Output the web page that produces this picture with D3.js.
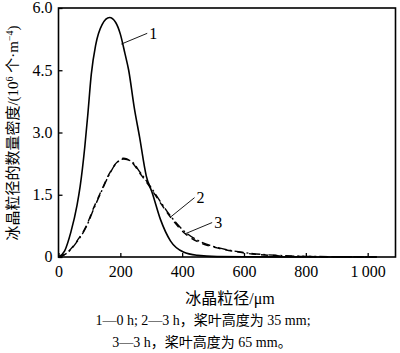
<!DOCTYPE html>
<html>
<head>
<meta charset="utf-8">
<script src="https://cdn.jsdelivr.net/npm/d3@7"></script>
<style>
  body { margin: 0; background: #fff; }
  text { font-family: "Liberation Serif", "Noto Sans CJK SC", serif; fill: #000; }
</style>
</head>
<body>
<div id="chart"></div>
<script>
// ice crystal size distribution, 3 curves
let width = 400, height = 353;

// data (size in um, density in 10^6 per m^4)
let sizes1 = [0, 20, 40, 60, 70, 85, 95, 106, 120, 141, 165, 185, 200, 215, 227, 245, 262, 284, 303, 330, 362, 404, 450, 513, 600, 700, 800, 900, 1030];
let curve1 = [0, 0.15, 0.6, 1.25, 1.7, 2.65, 3.45, 4.4, 5.1, 5.6, 5.77, 5.65, 5.37, 4.9, 4.5, 3.6, 2.9, 1.95, 1.55, 0.9, 0.39, 0.12, 0.04, 0.01, 0.005, 0.003, 0.002, 0.001, 0];

let sizes2 = [0, 12, 30, 60, 90, 114, 140, 163, 185, 211, 235, 265, 297, 330, 362, 410, 459, 513, 598, 706, 800, 900, 1030];
let curve2 = [0, 0.03, 0.12, 0.39, 0.75, 1.19, 1.62, 1.99, 2.25, 2.38, 2.3, 2.0, 1.67, 1.3, 0.96, 0.56, 0.34, 0.22, 0.1, 0.03, 0.012, 0.006, 0.003];
let curve3 = [0, 0.03, 0.11, 0.37, 0.73, 1.16, 1.6, 1.97, 2.24, 2.36, 2.31, 2.03, 1.7, 1.33, 0.99, 0.6, 0.37, 0.23, 0.11, 0.04, 0.015, 0.008, 0.004];

let xTicks = [0, 200, 400, 600, 800, 1000];
let yTicks = [0, 1.5, 3.0, 4.5, 6.0];

// curve labels: [text, leader start x, y, leader end x, y]
let labels = [
  ["1", 203, 5.13, 287, 5.39],
  ["2", 362, 0.96, 440, 1.43],
  ["3", 410, 0.56, 497, 0.83]
];

let svg = d3.select("#chart").append("svg")
  .attr("width", width)
  .attr("height", height);

let x = d3.scaleLinear().domain([0, 1090]).range([58.5, 395.5]);
let y = d3.scaleLinear().domain([0, 6]).range([257, 8]);

// frame
svg.append("rect")
  .attr("x", x(0)).attr("y", y(6))
  .attr("width", x(1090) - x(0)).attr("height", y(0) - y(6))
  .attr("fill", "none").attr("stroke", "#000").attr("stroke-width", 1.6);

// axes with inward ticks
let xAxis = svg.append("g")
  .attr("transform", "translate(0," + y(0) + ")")
  .call(d3.axisBottom(x).tickValues(xTicks).tickSize(-4).tickPadding(9)
    .tickFormat(d => d === 1000 ? "1\u2009000" : d));
let yAxis = svg.append("g")
  .attr("transform", "translate(" + x(0) + ",0)")
  .call(d3.axisLeft(y).tickValues(yTicks).tickSize(-4).tickPadding(6)
    .tickFormat(d => d === 0 ? "0" : d.toFixed(1)));

[xAxis, yAxis].forEach(function(a) {
  a.select(".domain").remove();
  a.selectAll("line").attr("stroke", "#000").attr("stroke-width", 1.3);
  a.selectAll("text").style("font-size", "16px").attr("fill", "#000");
});
yAxis.selectAll("text").attr("dy", "0.3em");

// curves
let line = d3.line()
  .x(d => x(d[0]))
  .y(d => y(d[1]))
  .curve(d3.curveMonotoneX);

svg.append("path")
  .datum(d3.zip(sizes2, curve3))
  .attr("d", line)
  .attr("fill", "none").attr("stroke", "#000").attr("stroke-width", 1.4)
  .attr("stroke-dasharray", "9,3,2,3");

svg.append("path")
  .datum(d3.zip(sizes2, curve2))
  .attr("d", line)
  .attr("fill", "none").attr("stroke", "#000").attr("stroke-width", 1.4)
  .attr("stroke-dasharray", "7,5");

svg.append("path")
  .datum(d3.zip(sizes1, curve1))
  .attr("d", line)
  .attr("fill", "none").attr("stroke", "#000").attr("stroke-width", 1.6);

// leader lines and numbers
labels.forEach(function(l) {
  svg.append("line")
    .attr("x1", x(l[1])).attr("y1", y(l[2]))
    .attr("x2", x(l[3])).attr("y2", y(l[4]))
    .attr("stroke", "#000").attr("stroke-width", 0.9);
  svg.append("text")
    .attr("x", x(l[3]) + 2).attr("y", y(l[4]))
    .attr("dy", "0.35em")
    .style("font-size", "16px")
    .text(l[0]);
});

// axis titles
let yTitle = svg.append("text")
  .attr("transform", "translate(18,133) rotate(-90)")
  .attr("text-anchor", "middle")
  .style("font-size", "15px");
yTitle.append("tspan").text("冰晶粒径的数量密度/(10");
yTitle.append("tspan").attr("baseline-shift", "super").style("font-size", "10px").text("6");
yTitle.append("tspan").text(" 个·m");
yTitle.append("tspan").attr("baseline-shift", "super").style("font-size", "10px").text("−4");
yTitle.append("tspan").text(")");

svg.append("text")
  .attr("x", 230).attr("y", 304)
  .attr("text-anchor", "middle")
  .style("font-size", "16px")
  .text("冰晶粒径/μm");

// caption
svg.append("text")
  .attr("x", 203).attr("y", 325)
  .attr("text-anchor", "middle")
  .style("font-size", "14px")
  .text("1—0 h; 2—3 h，桨叶高度为 35 mm;");
svg.append("text")
  .attr("x", 202).attr("y", 347)
  .attr("text-anchor", "middle")
  .style("font-size", "14px")
  .text("3—3 h，桨叶高度为 65 mm。");
</script>
</body>
</html>
